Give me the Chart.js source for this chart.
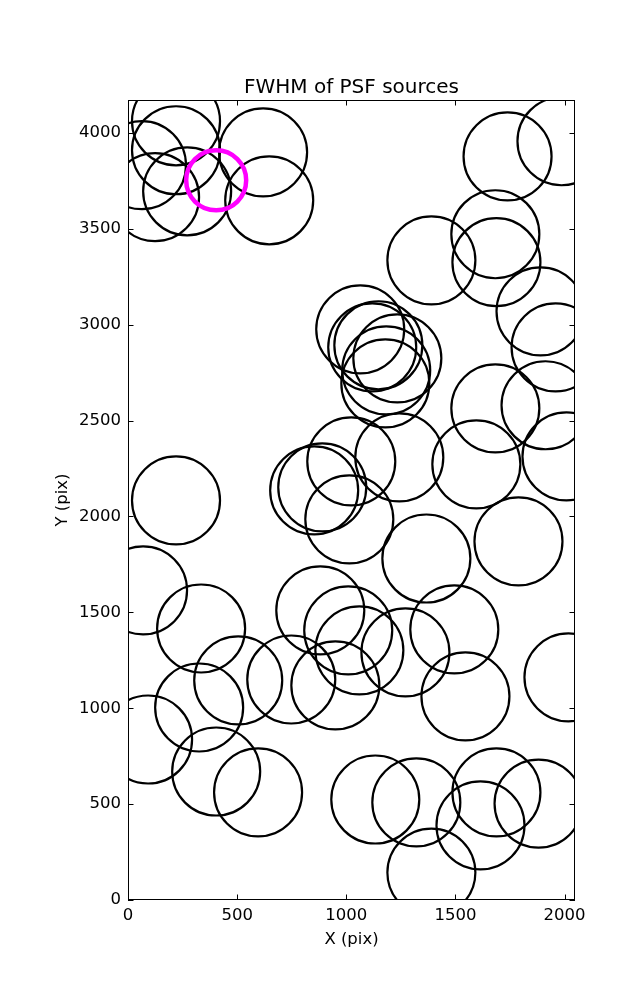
<!DOCTYPE html>
<html>
<head>
<meta charset="utf-8">
<script src="https://cdn.jsdelivr.net/npm/chart.js@4"></script>
<style>
  html, body { margin: 0; padding: 0; background: #fff; }
  canvas { display: block; }
</style>
</head>
<body>
<canvas id="fwhmGraph" width="637" height="1000"></canvas>
<script>
const xTicks = [0, 500, 1000, 1500, 2000];
const yTicks = [0, 500, 1000, 1500, 2000, 2500, 3000, 3500, 4000];
const xMax = 2048;
const yMax = 4172;

// PSF sources (pixel positions on the detector)
const srcX = [220, 220, 64, 124, 271, 619, 647,
  1739, 1986, 1683, 1688, 1390, 1890, 1959,
  1064, 1119, 1147, 1234, 1183, 1179,
  1683, 1913, 2009, 1596, 1243, 1023, 853, 890, 1014, 220,
  1367, 1789, 69, 335, 881, 1009, 1060, 1271, 1495,
  505, 748, 950, 1546, 2018, 326, 92, 404, 596,
  1133, 1321, 1688, 1881, 1615, 1390];
const srcY = [4061, 3910, 3832, 3665, 3696, 3899, 3649,
  3878, 3957, 3472, 3326, 3336, 3070, 2882,
  2976, 2882, 2893, 2825, 2762, 2694,
  2564, 2580, 2313, 2272, 2308, 2287, 2136, 2152, 1985, 2084,
  1781, 1870, 1615, 1416, 1510, 1406, 1302, 1291, 1411,
  1145, 1150, 1119, 1062, 1161, 1004, 837, 670, 561,
  524, 509, 561, 503, 389, 143];

// highlighted source
const peakX = [404];
const peakY = [3753];

const ctx = document.getElementById('fwhmGraph').getContext('2d');

Chart.defaults.font.family = "'DejaVu Sans', sans-serif";
Chart.defaults.color = '#000';

const frameTicks = {
  id: 'frameTicks',
  afterDatasetsDraw(chart) {
    const { ctx, chartArea: a, scales } = chart;
    const len = 5.5;
    ctx.save();
    ctx.strokeStyle = '#000';
    ctx.lineWidth = 1;
    ctx.beginPath();
    xTicks.forEach(v => {
      const px = Math.round(scales.x.getPixelForValue(v)) + 0.5;
      ctx.moveTo(px, a.bottom);
      ctx.lineTo(px, a.bottom - len);
      ctx.moveTo(px, a.top);
      ctx.lineTo(px, a.top + len);
    });
    yTicks.forEach(v => {
      const py = Math.round(scales.y.getPixelForValue(v)) + 0.5;
      ctx.moveTo(a.left, py);
      ctx.lineTo(a.left + len, py);
      ctx.moveTo(a.right, py);
      ctx.lineTo(a.right - len, py);
    });
    ctx.stroke();
    ctx.strokeRect(a.left + 0.5, a.top + 0.5, a.right - a.left - 1, a.bottom - a.top - 1);
    ctx.restore();
  }
};

new Chart(ctx, {
  type: 'scatter',
  data: {
    datasets: [
      {
        label: 'peak',
        data: peakX.map((x, i) => ({ x: x, y: peakY[i] })),
        pointStyle: 'circle',
        pointRadius: 30,
        borderWidth: 4.5,
        borderColor: '#ff00ff',
        backgroundColor: 'transparent',
        clip: 0
      },
      {
        label: 'sources',
        data: srcX.map((x, i) => ({ x: x, y: srcY[i] })),
        pointStyle: 'circle',
        pointRadius: 44,
        borderWidth: 2.2,
        borderColor: '#000',
        backgroundColor: 'transparent',
        clip: 0
      }
    ]
  },
  options: {
    responsive: false,
    animation: false,
    events: [],
    layout: {
      padding: { left: 0, right: 62, top: 0, bottom: 0 }
    },
    plugins: {
      legend: { display: false },
      tooltip: { enabled: false },
      title: {
        display: true,
        fullSize: false,
        text: 'FWHM of PSF sources',
        color: '#000',
        font: { size: 20, weight: 'normal' },
        padding: { top: 76, bottom: 0 }
      }
    },
    scales: {
      x: {
        type: 'linear',
        min: 0,
        max: xMax,
        afterFit: s => { s.height = 100; },
        afterBuildTicks: s => { s.ticks = xTicks.map(v => ({ value: v })); },
        grid: { display: false, drawTicks: false },
        border: { display: false },
        ticks: {
          color: '#000',
          padding: 6,
          maxRotation: 0,
          font: { size: 16.5 },
          callback: v => String(v)
        },
        title: {
          display: true,
          text: 'X (pix)',
          color: '#000',
          font: { size: 16.5 },
          padding: { top: 0, bottom: 50 }
        }
      },
      y: {
        type: 'linear',
        min: 0,
        max: yMax,
        afterFit: s => { s.width = 128; },
        afterBuildTicks: s => { s.ticks = yTicks.map(v => ({ value: v })); },
        grid: { display: false, drawTicks: false },
        border: { display: false },
        ticks: {
          color: '#000',
          padding: 7,
          font: { size: 16.5 },
          callback: v => String(v)
        },
        title: {
          display: true,
          text: 'Y (pix)',
          color: '#000',
          font: { size: 16.5 },
          padding: { top: 53, bottom: 0 }
        }
      }
    }
  },
  plugins: [frameTicks]
});
</script>
</body>
</html>
